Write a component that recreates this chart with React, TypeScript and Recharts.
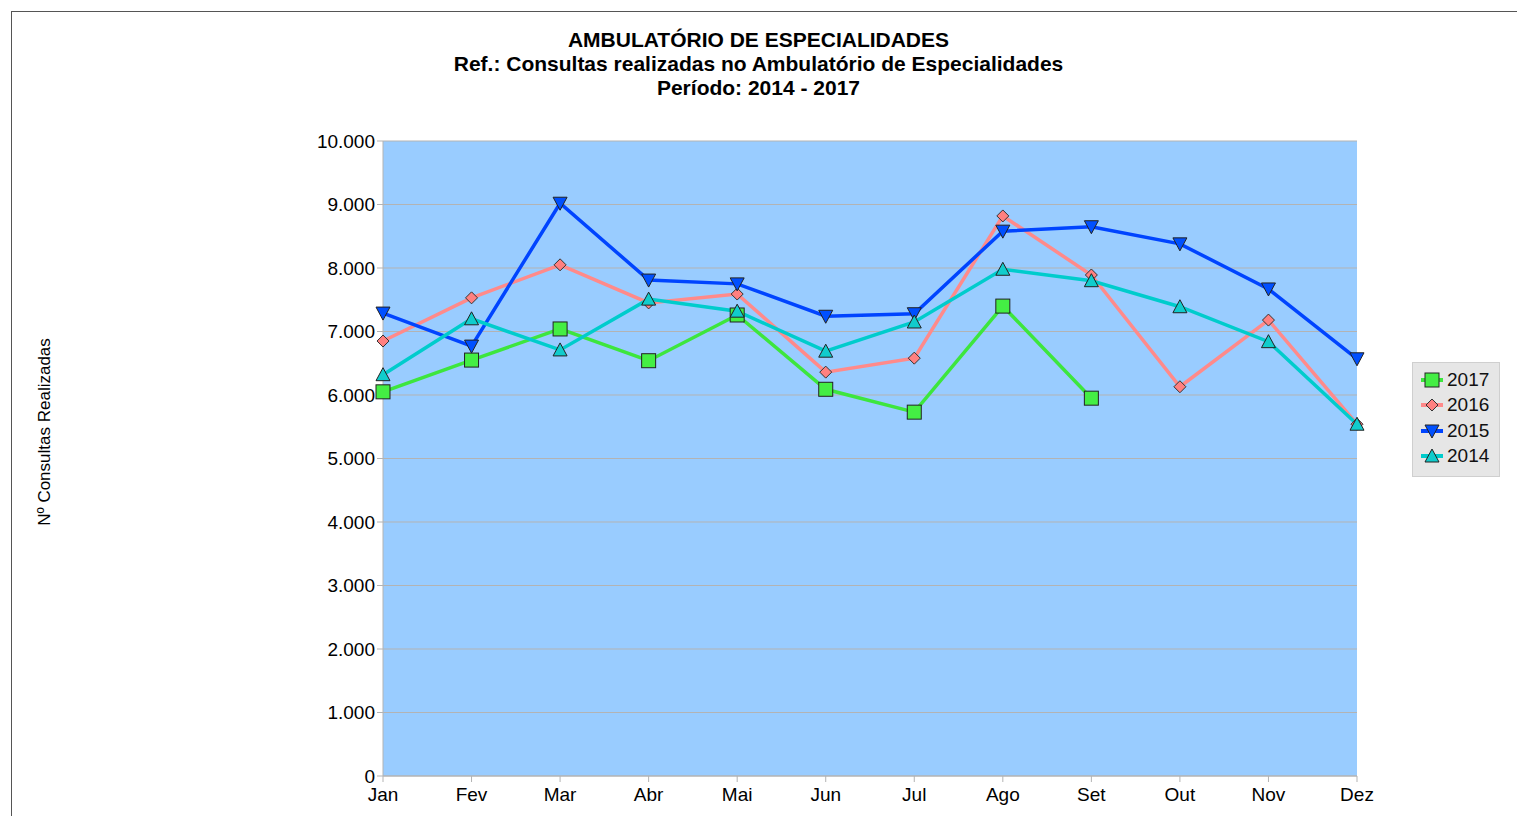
import { LineChart, Line, XAxis, YAxis, CartesianGrid } from "recharts"

const months = ["Jan", "Fev", "Mar", "Abr", "Mai", "Jun", "Jul", "Ago", "Set", "Out", "Nov", "Dez"]
const y2017 = [6050, 6550, 7040, 6540, 7260, 6090, 5730, 7400, 5950, null, null, null]
const y2016 = [6850, 7530, 8050, 7450, 7590, 6360, 6580, 8820, 7890, 6130, 7180, 5540]
const y2015 = [7290, 6770, 9020, 7810, 7750, 7240, 7280, 8580, 8650, 8380, 7670, 6570]
const y2014 = [6320, 7200, 6710, 7510, 7320, 6690, 7150, 7980, 7800, 7390, 6840, 5540]
const yTicks = [0, 1000, 2000, 3000, 4000, 5000, 6000, 7000, 8000, 9000, 10000]

const data = months.map((m, i) => ({
  month: m,
  "2017": y2017[i],
  "2016": y2016[i],
  "2015": y2015[i],
  "2014": y2014[i],
}))

const series = [
  { key: "2017", line: "#3de63d", fill: "#44ee44", shape: "square" },
  { key: "2016", line: "#ff8a8a", fill: "#ff8080", shape: "diamond" },
  { key: "2015", line: "#0044ff", fill: "#0050ff", shape: "down" },
  { key: "2014", line: "#00cccc", fill: "#11cccc", shape: "up" },
]

const font = "'Liberation Sans', Arial, sans-serif"

function marker(shape: string, x: number, y: number, fill: string, key?: string | number) {
  const s = 7
  if (shape === "square")
    return <rect key={key} x={x - s} y={y - s} width={s * 2} height={s * 2} fill={fill} stroke="#222" strokeWidth={1} />
  if (shape === "diamond")
    return <polygon key={key} points={`${x},${y - 6} ${x + 6},${y} ${x},${y + 6} ${x - 6},${y}`} fill={fill} stroke="#333" strokeWidth={1} />
  if (shape === "down")
    return <polygon key={key} points={`${x - 7},${y - 6} ${x + 7},${y - 6} ${x},${y + 7}`} fill={fill} stroke="#222" strokeWidth={1} />
  return <polygon key={key} points={`${x - 7},${y + 6} ${x + 7},${y + 6} ${x},${y - 7}`} fill={fill} stroke="#222" strokeWidth={1} />
}

const makeDot = (shape: string, fill: string) => (props: any) => {
  const { cx, cy, index } = props
  if (cx == null || cy == null || props.value == null) return <g key={index} />
  return marker(shape, cx, cy, fill, index)
}

const fmt = (v: number) => String(v).replace(/\B(?=(\d{3})+(?!\d))/g, ".")

function LegendBox() {
  return (
    <div style={{ position: "absolute", left: 1412, top: 362, width: 88, height: 115, background: "#e6e6e6", border: "1px solid #cfcfcf", fontFamily: font, fontSize: 19, color: "#111", paddingTop: 4, boxSizing: "border-box" }}>
      {series.map((s) => (
        <div key={s.key} style={{ display: "flex", alignItems: "center", height: 25.5 }}>
          <svg width={30} height={20} style={{ marginLeft: 4 }}>
            <line x1={4} x2={26} y1={10} y2={10} stroke={s.line} strokeWidth={4} />
            {marker(s.shape, 15, 10, s.fill)}
          </svg>
          <span>{s.key}</span>
        </div>
      ))}
    </div>
  )
}

export default function App() {
  return (
    <div style={{ position: "absolute", left: 0, top: 0, width: 1517, height: 816, overflow: "hidden", background: "#fff", fontFamily: font }}>
      <div style={{ position: "absolute", left: 11, top: 11, width: 1600, height: 900, borderTop: "1px solid #555", borderLeft: "1px solid #555" }} />
      <div style={{ position: "absolute", left: 0, top: 28, width: 1517, textAlign: "center", fontWeight: "bold", fontSize: 21, lineHeight: "24px", color: "#000" }}>
        <div>AMBULATÓRIO DE ESPECIALIDADES</div>
        <div>Ref.: Consultas realizadas no Ambulatório de Especialidades</div>
        <div>Período: 2014 - 2017</div>
      </div>
      <div style={{ position: "absolute", left: 45, top: 432, transform: "translate(-50%, -50%) rotate(-90deg)", whiteSpace: "nowrap", fontSize: 17, color: "#000" }}>
        Nº Consultas Realizadas
      </div>
      <div style={{ position: "absolute", left: 0, top: 0 }}>
        <LineChart width={1517} height={816} data={data} margin={{ top: 141, right: 160, bottom: 4, left: 200 }}>
          <CartesianGrid vertical={false} stroke="#b3b3b3" fill="#99ccff" fillOpacity={1} />
          <XAxis
            dataKey="month"
            stroke="#b3b3b3"
            tickSize={6}
            tickMargin={6}
            height={36}
            interval={0}
            tick={{ fill: "#000", fontSize: 19, fontFamily: font }}
            padding={{ left: 0, right: 0 }}
          />
          <YAxis
            domain={[0, 10000]}
            ticks={yTicks}
            tickFormatter={fmt}
            stroke="#b3b3b3"
            tickSize={6}
            width={183}
            tick={{ fill: "#000", fontSize: 19, fontFamily: font }}
            interval={0}
          />
          {series.map((s) => (
            <Line
              key={s.key}
              type="linear"
              dataKey={s.key}
              stroke={s.line}
              strokeWidth={3.5}
              dot={makeDot(s.shape, s.fill)}
              activeDot={false}
              connectNulls={false}
              isAnimationActive={false}
            />
          ))}
        </LineChart>
      </div>
      <LegendBox />
    </div>
  )
}
